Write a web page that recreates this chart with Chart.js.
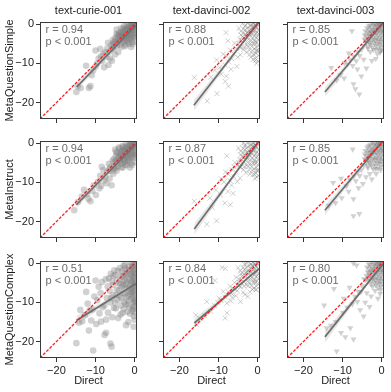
<!DOCTYPE html>
<html>
<head>
<meta charset="utf-8">
<script src="https://cdn.jsdelivr.net/npm/chart.js@4.4.0/dist/chart.umd.min.js"></script>
<style>
  body { margin: 0; background: #fff; }
  #wrap { position: relative; width: 391px; height: 392px; overflow: hidden; background: #fff; }
  #wrap canvas { position: absolute; }
</style>
</head>
<body>
<div id="wrap"></div>
<script>
// panel labels
const models = ['text-curie-001', 'text-davinci-002', 'text-davinci-003'];
const prompts = ['MetaQuestionSimple', 'MetaInstruct', 'MetaQuestionComplex'];
const rValues = [['0.94', '0.88', '0.85'], ['0.94', '0.87', '0.85'], ['0.51', '0.84', '0.80']];
const pLabel = 'p < 0.001';
const axisTicks = [-20, -10, 0];

// points, [Direct, prompt score]
const curieSimple = [[0.2,0.3],[0,-0.2],[-0.3,0.1],[-0.5,-0.6],[-0.2,-1],[0.1,-1.5],[-0.8,-0.3],[-1,-1],[-1.2,-0.5],[-0.6,-1.8],[-1.5,-1.4],[-1.8,-0.8],[-2,-2],[-0.4,-2.5],[-1,-2.7],[-2.3,-1.2],[-2.5,-2.6],[-1.6,-3.1],[-3,-1.8],[-0.2,-3.4],[-2.8,-3.3],[-3.3,-2.6],[-1.2,-3.8],[-3.6,-3.4],[-2.1,-4.1],[-4,-2.2],[-0.7,-4.5],[-4.2,-4],[-3,-4.6],[-4.6,-1.3],[-1.5,-5],[-3.8,-5.2],[-4.9,-3.5],[-2.5,-5.6],[0.3,-2.2],[-0.1,-0.7],[-1.4,-2.1],[-2.7,-0.4],[-3.5,-1],[0,-4.4],[-0.9,-5.8],[-3.2,-3.9],[-4.4,-2.8],[-1.9,-2.6],[-0.5,-3.1],[-2.2,-3.5],
  [-0.15,-0.35],[-0.45,0.25],[-0.75,-0.85],[-1.05,-1.35],[-1.35,-0.15],[-1.65,-2.25],[-1.95,-1.05],[-2.25,-2.85],[-2.55,-1.65],[-2.85,-2.35],[-3.15,-3.05],[-3.45,-1.95],[-3.75,-3.85],[-4.05,-3.15],[-4.35,-4.65],[-4.65,-2.45],[-4.95,-4.25],[-5.25,-5.65],[-5.55,-3.95],[-5.85,-6.35],[-0.35,-1.45],[-0.95,-3.35],[-1.75,-4.45],[-2.65,-4.25],[-3.35,-5.75],[0.15,-2.95],[-0.55,-5.05],[-1.25,-1.95],[-2.05,-0.35],[-2.95,-1.15],[-3.95,-2.65],[-4.55,-5.45],[-0.05,0.45],[-0.85,0.35],[-1.55,-3.65],[-2.35,-5.15],
  [-5.3,-4.6],[-5.6,-6.2],[-6,-5.3],[-6.3,-8.75],[-6.7,-10.4],[-6.5,-7],[-7,-6.2],[-7.5,-7.1],[-7.2,-8.3],[-8,-7.6],[-8.3,-9.4],[-8.8,-6.25],[-9.2,-8.75],[-10,-6.7],[-9.6,-10],[-5.8,-9.3],[-5,-7.7],[-4.2,-7.1],[-7.8,-11],[-8.6,-8.2],[-5.5,-5.1],[-6.8,-4.7],
  [-10,-10.8],[-12.4,-10.6],[-11.3,-15.8],[-11.7,-16.25],[-13.8,-16.3],[-14.6,-15.8],[-14.9,-17.3],[-11,-13],[-10.6,-11.8]];

const davinci002Simple = [[0.3,0.5],[0,0],[-0.3,0.4],[-0.5,-0.3],[-0.2,-0.8],[0.2,-1.3],[-0.9,0.2],[-1.1,-0.7],[-1.4,-0.1],[-0.7,-1.6],[-1.6,-1.2],[-2,-0.4],[-2.2,-1.6],[-0.4,-2.2],[-1.2,-2.4],[-2.6,-0.9],[-2.8,-2.1],[-1.8,-2.8],[-3.2,-1.4],[-0.1,-3],[-3,-3],[-3.6,-2.2],[-1.3,-3.5],[-3.9,-3.1],[-2.3,-3.8],[-4.3,-1.8],[0.2,-3.9],[-4.5,-3.9],[-3.4,-4.4],[-4.8,-1],[-1.8,-4.9],[-3.9,-4.8],[-4.6,-5.6],[-2.7,-5.3],[0.3,-2.4],[-0.6,-4.5],[-1.5,-5.6],[-0.2,-5.9],[0,-6.6],[-0.9,-6.3],[-2.1,-6.6],[-0.4,-7.3],[0.2,-8],[-1.1,-7.7],[-0.6,-8.7],[0.1,-9.4],[-1.7,-8.4],[-0.3,-10],[-2.9,-7.2],[-3.5,-6.4],[-3.9,0.25],[-2.5,0.5],[-1.7,0.7],[-3.3,-0.5],
  [-0.12,0.18],[-0.51,-0.87],[-0.69,-0.21],[-1.13,-1.78],[-1.28,-0.62],[-1.72,-2.31],[-1.88,-1.38],[-2.31,-2.49],[-2.47,-2.06],[-2.93,-3.31],[-3.08,-2.57],[-3.52,-3.49],[-3.66,-1.18],[-4.14,-4.07],[-4.27,-2.71],[-4.73,-4.88],[-0.09,-2.08],[-0.28,-3.41],[-0.61,-5.13],[-0.79,-4.19],[-1.22,-4.93],[-1.38,-6.71],[-0.31,-6.72],[0.11,-5.38],[-0.82,-7.83],[-1.19,-9.02],[-2.42,-5.81],[-1.97,-7.68],[0.22,-6.91],[-0.52,-9.23],[-1.79,-0.28],[-3.03,-0.22],[-3.47,-5.88],[-4.33,-6.02],[-0.88,-3.08],[-1.62,-4.13],[-0.21,-4.57],[-2.58,-4.69],
  [-5.3,-10.75],[-5.5,-6.2],[-5.9,-4.8],[-6.2,-7.5],[-6.6,-8.8],[-7,-6.6],[-7.4,-9.6],[-7.9,-8.2],[-8.3,-10.4],[-8.8,-7.6],[-9.3,-12.75],[-8,-13.25],[-8.3,-14.6],[-8.1,-2.1],[-10.5,-9.1],[-9.7,-11],[-6.8,-11.5],[-5.1,-8.4],[-4.4,-7.8],[-7.6,-4.2],
  [-16.2,-13.6],[-12.9,-19.6],[-10.4,-17.7],[-7.45,-15.8],[-11,-11.7],[-12,-13.5]];

const davinci003Simple = [[0.4,0.6],[0.1,0.2],[-0.3,0.5],[-0.5,-0.2],[-0.2,-0.7],[0.2,-1.2],[-0.9,0.3],[-1.1,-0.6],[-1.4,0],[-0.7,-1.5],[-1.6,-1.1],[-2,-0.3],[-2.2,-1.5],[-0.4,-2.1],[-1.2,-2.3],[-2.6,-0.8],[-2.8,-2],[-1.8,-2.7],[-3.2,-1.3],[-0.1,-2.9],[-3,-2.9],[-3.6,-2.1],[-1.3,-3.4],[-3.9,-3],[-2.3,-3.7],[-4.2,-1.7],[0.2,-3.8],[-4.4,-3.8],[-3.4,-4.3],[-1.8,-4.8],[-3.9,-4.7],[-4.6,-5.5],[-2.7,-5.2],[0.3,-2.3],[-0.6,-4.4],[-1.5,-5.5],[-0.2,-5.8],[0,-6.5],[-0.9,-6.2],[-2.1,-6.5],[-0.4,-7.2],[-1.1,-7.6],[-2.9,-7],[-3.5,-6.2],[-3.3,-0.4],[-2.5,0.4],
  [-0.15,0.25],[-0.45,-0.85],[-0.75,-0.05],[-1.05,-1.75],[-1.35,-0.45],[-1.65,-2.05],[-1.95,-1.35],[-2.25,-2.55],[-2.55,-1.85],[-2.85,-3.35],[-3.15,-2.35],[-3.45,-3.55],[-3.75,-0.95],[-4.05,-4.15],[-4.35,-2.75],[-0.05,-1.85],[-0.35,-3.45],[-0.55,-5.15],[-0.85,-3.95],[-1.15,-4.95],[-1.45,-6.45],[-0.25,-6.75],[0.15,-5.15],[-2.35,-5.85],[-1.85,-0.05],[-2.95,-0.25],[-3.55,-5.65],[-0.95,-2.85],[-1.55,-4.15],[-0.15,-4.35],[-2.65,-4.45],[0.35,-0.45],[0.3,-1.6],[-0.6,0.55],[-1.9,-3.9],[-3.1,-4.8],
  [-7.6,-1.7],[-5.2,-6.5],[-5.6,-8],[-6,-7.1],[-6.5,-9.4],[-7,-8.2],[-7.4,-10.6],[-8,-9.1],[-8.7,-10.2],[-9.5,-9.8],[-3.9,-11.25],[-5.2,-13.3],[-4.6,-9],[-2.5,-9.3],[-1.5,-8.8],[-6.2,-11.5],[-8.4,-7.4],
  [-12.9,-11.1],[-10.5,-12.9],[-7.2,-15.25],[-5.7,-17.9],[-6.7,-16.5],[-11.5,-14.3],[-9.6,-13.8]];

const curieInstruct = [[0.3,0.2],[0,-0.4],[-0.4,0.2],[-0.7,-0.5],[-0.3,-1.2],[0.1,-1.8],[-1,-0.2],[-1.3,-1.1],[-1.6,-0.6],[-0.8,-2],[-1.9,-1.7],[-2.2,-0.9],[-2.4,-2.3],[-0.5,-2.8],[-1.3,-3],[-2.7,-1.5],[-3,-2.9],[-1.9,-3.5],[-3.4,-2],[-0.2,-3.7],[-3.1,-3.8],[-3.7,-2.9],[-1.5,-4.3],[-4,-3.8],[-2.5,-4.6],[-4.4,-2.5],[-0.9,-5],[-4.7,-4.4],[-3.4,-5.2],[-5,-1.6],[-2,-5.6],[-4.3,-5.8],[-5.3,-4],[-3,-6.2],[0.2,-2.6],[-0.2,-0.9],[-1.7,-2.4],[-3.1,-0.7],[-3.9,-1.3],[-0.1,-4.8],[-1.2,-6.2],[-3.6,-4.4],[-4.8,-3.2],[-2.2,-3],[-0.6,-3.4],[-2.6,-4],
  [-0.25,-0.15],[-0.55,-0.95],[-0.85,0.05],[-1.15,-1.55],[-1.45,-0.45],[-1.75,-2.05],[-2.05,-1.25],[-2.35,-3.25],[-2.65,-2.05],[-2.95,-0.95],[-3.25,-3.45],[-3.55,-2.45],[-3.85,-4.55],[-4.15,-3.25],[-4.45,-5.05],[-4.75,-2.15],[-5.05,-4.75],[-5.35,-6.05],[-5.65,-4.45],[-5.95,-7.05],[-6.45,-6.55],[-0.45,-2.15],[-1.05,-3.55],[-1.85,-4.65],[-2.75,-4.95],[-3.45,-6.15],[0.05,-3.15],[-0.65,-5.55],[-1.35,-2.35],[-2.15,-0.15],[-3.05,-1.75],[-4.05,-1.05],[-4.65,-6.25],[-0.95,-0.65],[-1.65,-3.95],[-2.45,-5.45],
  [-5.45,-7.75],[-5.9,-10.7],[-6.2,-6],[-6.6,-5.2],[-7,-7.2],[-7.5,-8.6],[-8,-6.8],[-8.4,-6],[-7.8,-9.5],[-8.8,-8.3],[-9.4,-9.8],[-10.45,-10.7],[-9.9,-13.2],[-6.4,-9],[-5.2,-6.5],[-4.6,-7],[-9,-11.5],[-7.2,-10.2],[-8.6,-10.9],[-10.8,-12.2],
  [-12.95,-11.9],[-11.3,-14.8],[-11.8,-14.2],[-15.45,-17.1],[-13.5,-13.6],[-12.2,-13],[-14.5,-15]];

const davinci002Instruct = [[0.3,0.4],[0,-0.1],[-0.4,0.3],[-0.6,-0.5],[-0.2,-1],[0.2,-1.5],[-1,0],[-1.2,-0.9],[-1.5,-0.3],[-0.8,-1.8],[-1.7,-1.4],[-2.1,-0.6],[-2.3,-1.9],[-0.4,-2.5],[-1.3,-2.7],[-2.7,-1.1],[-2.9,-2.4],[-1.9,-3.1],[-3.3,-1.6],[-0.1,-3.3],[-3.1,-3.3],[-3.7,-2.5],[-1.4,-3.8],[-4,-3.4],[-2.4,-4.1],[-4.4,-2],[0.2,-4.2],[-4.6,-4.2],[-3.5,-4.7],[-4.9,-1.2],[-1.9,-5.2],[-4,-5.1],[-4.7,-5.9],[-2.8,-5.6],[0.3,-2.7],[-0.7,-4.8],[-1.6,-5.9],[-0.3,-6.2],[0,-6.9],[-1,-6.6],[-2.2,-6.9],[-0.5,-7.6],[0.2,-8.3],[-1.2,-8],[-0.7,-9],[-3,-7.5],[-3.6,-6.7],[-3.7,0],[-2.6,0.3],[-1.8,0.5],[-3.4,-0.7],[-0.2,-8.6],
  [-0.11,0.14],[-0.52,-0.97],[-0.68,-0.33],[-1.12,-1.91],[-1.29,-0.74],[-1.71,-2.44],[-1.89,-1.52],[-2.32,-2.67],[-2.48,-2.23],[-2.92,-3.47],[-3.07,-2.71],[-3.53,-3.66],[-3.67,-1.33],[-4.13,-4.27],[-4.28,-2.87],[-4.72,-5.04],[-0.1,-2.22],[-0.27,-3.58],[-0.62,-5.27],[-0.78,-4.33],[-1.23,-5.07],[-1.37,-6.84],[-0.32,-6.87],[0.1,-5.53],[-0.83,-7.96],[-2.43,-5.97],[-1.96,-7.83],[0.21,-7.06],[-1.78,-0.43],[-3.04,-0.37],[-3.46,-6.03],[-4.34,-6.17],[-0.87,-3.23],[-1.63,-4.27],[-0.22,-4.73],[-2.57,-4.83],[-5.13,-5.72],[-6.07,-5.98],
  [-5.5,-7.3],[-5.8,-4.9],[-6.1,-8.5],[-6.7,-10.7],[-6.5,-6.8],[-7,-9.6],[-7.5,-7.9],[-8.2,-7.3],[-7.9,-3.2],[-8.6,-9.9],[-9.35,-9],[-5.2,-9.8],[-4.5,-8.9],[-10.7,-11.9],[-9.5,-13.2],[-8.4,-15.25],[-7,-15.7],[-7.6,-12.3],[-6.3,-12.8],
  [-16.2,-14.8],[-13,-20.7],[-10.5,-19.8],[-11.6,-16.4],[-12.2,-14]];

const davinci003Instruct = [[0.4,0.5],[0.1,0],[-0.3,0.4],[-0.5,-0.4],[-0.2,-0.9],[0.2,-1.4],[-0.9,0.1],[-1.1,-0.8],[-1.4,-0.2],[-0.7,-1.7],[-1.6,-1.3],[-2,-0.5],[-2.2,-1.7],[-0.4,-2.3],[-1.2,-2.5],[-2.6,-1],[-2.8,-2.2],[-1.8,-2.9],[-3.2,-1.5],[-0.1,-3.1],[-3,-3.1],[-3.6,-2.3],[-1.3,-3.6],[-3.9,-3.2],[-2.3,-3.9],[-4.2,-1.9],[0.2,-4],[-4.4,-4],[-3.4,-4.5],[-1.8,-5],[-3.9,-4.9],[-4.6,-5.7],[-2.7,-5.4],[0.3,-2.5],[-0.6,-4.6],[-1.5,-5.7],[-0.2,-6],[-0.9,-6.4],[-2.1,-6.7],[-3,-7.75],[-1.4,-7.75],[-3.5,-6.3],[-3.3,-0.6],[-2.5,0.2],
  [-0.15,0.2],[-0.45,-0.9],[-0.75,-0.1],[-1.05,-1.8],[-1.35,-0.5],[-1.65,-2.1],[-1.95,-1.4],[-2.25,-2.6],[-2.55,-1.9],[-2.85,-3.4],[-3.15,-2.4],[-3.45,-3.6],[-3.75,-1],[-4.05,-4.2],[-4.35,-2.8],[-0.05,-1.9],[-0.35,-3.5],[-0.55,-5.2],[-0.85,-4],[-1.15,-5],[-1.45,-6.5],[-0.25,-6.8],[0.15,-5.2],[-2.35,-5.9],[-1.85,-0.1],[-2.95,-0.3],[-3.55,-5.7],[-0.95,-2.9],[-1.55,-4.2],[-0.15,-4.4],[-2.65,-4.5],[0.35,-0.5],[0.3,-1.7],[-0.6,0.5],[-1.9,-4],[-3.1,-4.9],
  [-7.4,-1.5],[-5.2,-6.8],[-5.6,-8.3],[-6.1,-7.3],[-6.6,-9.6],[-7.1,-8.4],[-8.1,-9.3],[-10.4,-9],[-12.4,-10.1],[-8.45,-12.3],[-7.2,-14.25],[-4.8,-10.3],[-2.5,-9.2],[-5.9,-11.4],[-9,-10.9],[-4,-8.6],
  [-11.8,-15.25],[-7.2,-18.6],[-5.7,-18],[-10.2,-14],[-13.5,-15.9]];

const curieComplex = [[0.2,0],[0,-0.5],[-0.3,-1],[0.1,-1.6],[-0.5,-2.1],[0.2,-2.7],[-0.2,-3.2],[0,-3.8],[-0.6,-4.3],[0.1,-4.9],[-0.3,-5.5],[0.2,-6.1],[-0.1,-6.8],[-0.5,-7.4],[0.1,-8],[-0.3,-8.7],[0.2,-9.4],[-0.2,-10.1],[0,-10.9],[-0.4,-11.7],[0.1,-12.6],[-0.2,-13.5],[0,-14.4],[-0.5,-0.2],[0.3,-5.2],[-0.7,-6.5],[0.3,-9.9],[-0.6,-12.1],
  [-0.35,-1.5],[-0.15,-2.45],[-0.45,-3.5],[-0.05,-4.6],[-0.4,-5.85],[-0.15,-7.1],[-0.45,-8.35],[-0.1,-9.75],[-0.35,-11.2],[-0.75,-2.9],[-0.85,-5],[-0.95,-7.3],[-0.9,-9.1],[-1.35,-1.6],[-1.45,-6.4],[-1.7,-8.3],[-1.95,-2.7],[-1.75,-10.6],[-2.35,-1.3],[-2.6,-4.2],[-2.45,-7.7],[-2.85,-5.6],[-3.05,-3.3],[-3.4,-8.9],[-3.7,-5.2],[-4,-6.8],[-4.3,-1.9],[-4.7,-8.1],[-5,-10],[-5.5,-5.5],[-6,-8.9],[-6.6,-3.8],[-0.6,-0.9],[-1.2,-12.9],[-2.8,-11.6],[-3.6,-13.1],[-0.25,-16.2],[-2.2,-15.8],
  [-1,0.2],[-1.4,-0.8],[-1.8,-1.9],[-1.1,-2.6],[-2.2,-3.1],[-1.5,-3.9],[-2,-4.8],[-1.2,-5.6],[-2.4,-6.3],[-1.6,-7.1],[-1.1,-7.9],[-2.1,-8.7],[-1.5,-9.6],[-2.3,-10.4],[-1.3,-11.3],[-1.9,-12.4],[-1.6,-15],[-2.5,-0.4],[-1.2,-4.3],[-2.2,-5.4],
  [-2.8,-0.6],[-3.2,-2],[-3.6,-3.4],[-2.9,-4.5],[-4.1,-5.1],[-3.3,-6],[-4.6,-6.8],[-3,-7.6],[-3.9,-8.4],[-4.4,-9.3],[-2.7,-9.9],[-3.5,-10.8],[-4.8,-11.5],[-3.1,-12.7],[-4.2,-14],[-3.8,-1.2],[-4.9,-3],[-2.6,-2.6],[-4.5,-4.4],
  [-5.2,-1.8],[-5.45,-3.2],[-6.1,-2.7],[-5.8,-4.6],[-6.9,-5.9],[-6.4,-7],[-7.4,-4.1],[-5.6,-8.2],[-7.1,-8.9],[-6.2,-10],[-7.7,-10.8],[-5.3,-11.4],[-6.8,-12.6],[-7.3,-14.4],[-5.7,-13.8],[-6.2,-20.5],[-7.7,-18.3],[-5.9,-21.3],[-7.3,-17.75],
  [-8.4,-4.8],[-10,-4.4],[-9.2,-6],[-8.7,-7.6],[-10.3,-8.5],[-9.5,-9.4],[-8.2,-11.2],[-10.8,-11.8],[-9,-12.8],[-11.1,-14.6],[-8.6,-14.9],[-10.6,-22.3],[-9.8,-15.5],
  [-12.4,-7.3],[-13.9,-11.9],[-12.7,-13.2],[-11.7,-17.2],[-13.4,-14.8],[-14.9,-20.4],[-14.2,-15.2],[-12,-10.3],[-11.5,-12]];

const davinci002Complex = [[0.3,0.4],[0,0],[-0.4,0.3],[-0.6,-0.4],[-0.2,-0.9],[0.2,-1.4],[-1,0.1],[-1.3,-0.8],[-1.6,-0.2],[-0.8,-1.7],[-1.8,-1.3],[-2.2,-0.5],[-2.4,-1.8],[-0.4,-2.3],[-1.3,-2.5],[-2.8,-1],[-3,-2.3],[-2,-3],[-3.4,-1.5],[-0.1,-3.1],[-3.2,-3.2],[-3.8,-2.4],[-1.5,-3.6],[-4.1,-3.3],[-2.5,-3.9],[-4.5,-1.9],[0.2,-4],[-4.7,-4.1],[-3.6,-4.6],[-5,-1.1],[-2,-5],[-4.1,-5],[-4.8,-5.8],[-2.9,-5.5],[0.3,-2.6],[-0.7,-4.6],[-1.6,-5.7],[-0.3,-5.9],[-1,-6.4],[-5.5,-3.6],[-5.9,-4.9],[-6.3,-6.4],[-3.45,-0.25],[-2.6,0.4],[-0.5,-6.8],
  [-0.12,0.21],[-0.51,-0.83],[-0.69,-0.27],[-1.13,-1.73],[-1.28,-0.58],[-1.72,-2.22],[-1.88,-1.33],[-2.31,-2.47],[-2.47,-1.98],[-2.93,-3.27],[-3.08,-2.53],[-3.52,-3.47],[-3.66,-1.12],[-4.14,-4.08],[-4.27,-2.67],[-4.73,-4.83],[-0.09,-1.98],[-0.28,-3.37],[-0.61,-5.08],[-0.79,-4.13],[-1.22,-4.88],[-1.38,-6.63],[-0.31,-6.67],[0.11,-5.33],[-2.42,-5.78],[-1.97,-7.33],[-1.79,-0.22],[-3.03,-0.17],[-3.47,-5.83],[-4.33,-5.97],[-0.88,-3.03],[-1.62,-4.08],[-0.21,-4.52],[-2.58,-4.62],[-5.03,-5.41],[-5.77,-6.68],[-6.53,-8.72],[-3.27,-7.97],
  [-5.2,-7],[-5.6,-8.3],[-6.5,-7.9],[-7,-5.9],[-7.5,-7.3],[-7.8,-12.7],[-8.3,-14],[-8.3,-8.6],[-9.1,-1.1],[-8.3,-1.3],[-10.9,-4.4],[-6.9,-9.6],[-4.4,-9.8],[-2.5,-8.5],[-3.7,-7.4],[-7.9,-10.2],[-9.4,-9.5],[-10.2,-10],[-11,-10.8],[-13,-9.8],[-12,-12.3],[-13.5,-13.4],[-14.6,-14.2],[-15.8,-13.2],[-15.6,-15.7],[-9.8,-8.9],[-8.8,-7.2]];

const davinci003Complex = [[0.4,0.5],[0.1,0],[-0.3,0.4],[-0.5,-0.3],[-0.2,-0.8],[0.2,-1.3],[-0.9,0.2],[-1.1,-0.7],[-1.4,0],[-0.7,-1.6],[-1.6,-1.2],[-2,-0.4],[-2.2,-1.6],[-0.4,-2.2],[-1.2,-2.4],[-2.6,-0.9],[-2.8,-2.1],[-1.8,-2.8],[-3.2,-1.4],[-0.1,-3],[-3,-3],[-3.6,-2.2],[-1.3,-3.5],[-3.9,-3.1],[-2.3,-3.8],[0.2,-3.9],[-3.4,-4.4],[-1.8,-4.9],[-2.7,-5.3],[0.3,-2.4],[-0.6,-4.5],[-1.5,-5.6],[-0.2,-5.9],[-0.9,-6.3],[-0.95,-9],[-3.3,-0.2],[-2.6,0.5],
  [-0.15,0.2],[-0.45,-0.9],[-0.75,-0.1],[-1.05,-1.8],[-1.35,-0.5],[-1.65,-2.1],[-1.95,-1.4],[-2.25,-2.6],[-2.55,-1.9],[-2.85,-3.4],[-3.15,-2.4],[-3.45,-3.6],[-3.75,-1],[-4.05,-4.2],[-0.05,-1.9],[-0.35,-3.5],[-0.55,-5.2],[-0.85,-4],[-1.15,-5],[-0.25,-6.8],[0.15,-5.2],[-2.35,-5.9],[-1.85,-0.1],[-2.95,-0.3],[-0.95,-2.9],[-1.55,-4.2],[-0.15,-4.4],[-2.65,-4.5],[0.35,-0.5],[0.3,-1.7],[-0.6,0.5],[-1.9,-4],[-0.4,-7.8],[-1.7,-7],
  [-7.2,0],[-6.4,-0.5],[-4.5,-4],[-5,-5.8],[-5.5,-11.9],[-4.6,-13.5],[-6,-7.2],[-6.8,-8.5],[-9.7,-9],[-12.2,-6.5],[-8.2,-6.2],[-7.5,-10.4],[-6.2,-9.8],[-3.8,-7.6],[-2.7,-8.4],[-4.2,-10],[-8.8,-11.3],[-9.9,-12.6],[-3.1,-11.1],[-5.3,-7.3],
  [-14.7,-10.7],[-11.5,-22.5],[-14.1,-16.5],[-10.4,-17.75],[-9.3,-18.8],[-7.2,-19.4],[-8,-16.5],[-11.7,-14.9],[-13,-15.9]];

const panelPoints = [
  [curieSimple, davinci002Simple, davinci003Simple],
  [curieInstruct, davinci002Instruct, davinci003Instruct],
  [curieComplex, davinci002Complex, davinci003Complex]
];

// regression line ends and confidence band half widths (low end, middle, high end)
const fitStart = [[[-14.8,-16],[-16.3,-20.7],[-14.5,-17.3]], [[-14.9,-15.7],[-16.2,-21.9],[-14.5,-17.1]], [[-14.9,-14.6],[-16.2,-15.25],[-14.5,-18.8]]];
const fitEnd = [[[0.3,-0.3],[0.3,0.6],[0.3,0.3]], [[0.3,-0.3],[0.3,0.5],[0.3,0.6]], [[0.3,-5.2],[0.3,-1.4],[0.3,-0.2]]];
const bandHalf = [[[0.9,0.25,0.3],[1.4,0.3,0.4],[1.2,0.3,0.4]], [[0.9,0.25,0.3],[1.5,0.3,0.4],[1.3,0.3,0.4]], [[1.2,0.3,0.5],[1.2,0.25,0.35],[1.5,0.3,0.5]]];

const axisMin = -24.2, axisMax = 0.6;
const colLeft = [40, 163, 287];
const rowTop = [22, 141, 261];
const FONT = "'Liberation Sans', Arial, Helvetica, sans-serif";

Chart.defaults.font.family = FONT;
Chart.defaults.color = '#222';

function fmt(v) {
  if (axisTicks.indexOf(v) < 0) return '';
  return v < 0 ? '\u2212' + Math.abs(v) : '' + v;
}

// frame, column title and r / p text
const framePlugin = {
  id: 'frame',
  afterDatasetsDraw(chart, args, opts) {
    const a = chart.chartArea, ctx = chart.ctx;
    ctx.save();
    ctx.font = '11px ' + FONT;
    ctx.fillStyle = '#6b6b6b';
    ctx.textBaseline = 'middle';
    ctx.textAlign = 'left';
    ctx.fillText('r = ' + opts.r, a.left + 5.5, a.top + 8);
    ctx.fillText(pLabel, a.left + 5.5, a.top + 19.5);
    if (opts.title) {
      ctx.fillStyle = '#1a1a1a';
      ctx.textAlign = 'center';
      ctx.fillText(opts.title, (a.left + a.right) / 2, a.top - 11.5);
    }
    ctx.strokeStyle = '#3a3a3a';
    ctx.lineWidth = 1;
    ctx.strokeRect(Math.round(a.left) + 0.5, Math.round(a.top) + 0.5, Math.round(a.right - a.left) - 1, Math.round(a.bottom - a.top) - 1);
    ctx.restore();
  }
};

const wrap = document.getElementById('wrap');
const markerStyle = ['circle', 'crossRot', 'triangle'];

for (let r = 0; r < 3; r++) {
  for (let c = 0; c < 3; c++) {
    const cv = document.createElement('canvas');
    cv.width = 145; cv.height = 150;
    cv.style.left = (colLeft[c] - 40) + 'px';
    cv.style.top = (rowTop[r] - 22) + 'px';
    cv.style.width = '145px'; cv.style.height = '150px';
    wrap.appendChild(cv);

    const s = fitStart[r][c], e = fitEnd[r][c], h = bandHalf[r][c];
    const mx = s[0] + (e[0] - s[0]) * 0.7, my = s[1] + (e[1] - s[1]) * 0.7;
    const pts = panelPoints[r][c].map(p => ({x: p[0], y: p[1]}));

    new Chart(cv, {
      type: 'scatter',
      data: {
        datasets: [
          { type: 'line', data: [{x: axisMin, y: axisMin}, {x: axisMax, y: axisMax}], borderColor: '#ff1a1a', borderWidth: 1.3, borderDash: [3, 1.5], pointRadius: 0, fill: false },
          { type: 'line', data: [{x: s[0], y: s[1]}, {x: e[0], y: e[1]}], borderColor: '#6e6e6e', borderWidth: 1.7, pointRadius: 0, fill: false },
          { type: 'line', data: [{x: s[0], y: s[1] + h[0]}, {x: mx, y: my + h[1]}, {x: e[0], y: e[1] + h[2]}], borderWidth: 0, borderColor: 'rgba(0,0,0,0)', pointRadius: 0, fill: false },
          { type: 'line', data: [{x: s[0], y: s[1] - h[0]}, {x: mx, y: my - h[1]}, {x: e[0], y: e[1] - h[2]}], borderWidth: 0, borderColor: 'rgba(0,0,0,0)', pointRadius: 0, fill: '-1', backgroundColor: 'rgba(150,150,150,0.22)' },
          { type: 'scatter', data: pts, pointStyle: markerStyle[c], rotation: c === 2 ? 180 : 0,
            pointRadius: c === 0 ? 3.3 : 3.5,
            backgroundColor: 'rgba(128,128,128,0.36)',
            borderColor: c === 1 ? 'rgba(128,128,128,0.38)' : 'rgba(0,0,0,0)',
            borderWidth: c === 1 ? 1 : 0 }
        ]
      },
      options: {
        responsive: false,
        animation: false,
        devicePixelRatio: 1,
        events: [],
        layout: { padding: { top: 22, right: 8, left: 0, bottom: 0 } },
        plugins: {
          legend: { display: false },
          tooltip: { enabled: false },
          title: { display: false },
          frame: { r: rValues[r][c], title: r === 0 ? models[c] : '' }
        },
        scales: {
          x: {
            type: 'linear', min: axisMin, max: axisMax,
            afterFit: sc => { sc.height = 31; },
            ticks: { display: r === 2, stepSize: 10, includeBounds: false, callback: fmt, font: { size: 11 }, color: '#222', padding: 2.5, maxRotation: 0, autoSkip: false },
            grid: { drawOnChartArea: false, drawTicks: true, tickLength: 4, color: '#333' },
            border: { display: false },
            title: { display: r === 2, text: 'Direct', color: '#1a1a1a', font: { size: 11 }, padding: { top: 0, bottom: 1.4 } }
          },
          y: {
            type: 'linear', min: axisMin, max: axisMax,
            afterFit: sc => { sc.width = 40; },
            ticks: { display: c === 0, stepSize: 10, includeBounds: false, callback: fmt, font: { size: 11 }, color: '#222', padding: 2, autoSkip: false },
            grid: { drawOnChartArea: false, drawTicks: true, tickLength: 4, color: '#333' },
            border: { display: false },
            title: { display: c === 0, text: prompts[r], color: '#1a1a1a', font: { size: 11 }, padding: { top: 3.7, bottom: 0 } }
          }
        }
      },
      plugins: [framePlugin]
    });
  }
}
</script>
</body>
</html>
